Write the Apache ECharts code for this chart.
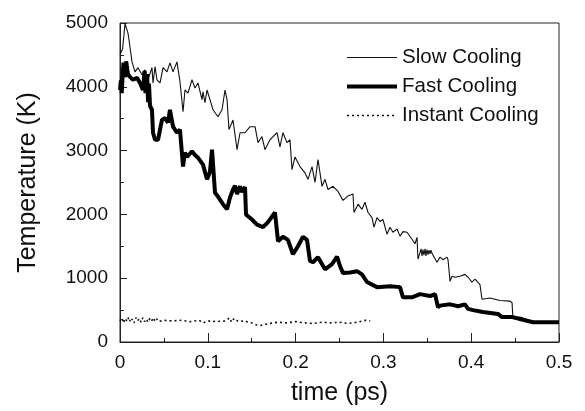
<!DOCTYPE html>
<html>
<head>
<meta charset="utf-8">
<script src="https://cdn.jsdelivr.net/npm/echarts@6/dist/echarts.min.js"></script>
<style>
html,body{margin:0;padding:0;background:#fff;}
#chart{width:585px;height:411px;}
</style>
</head>
<body>
<div id="chart"></div>
<script>
// ---- data ----
var seriesNames = ['Slow Cooling', 'Fast Cooling', 'Instant Cooling'];
var xTicks = [0, 0.1, 0.2, 0.3, 0.4, 0.5];
var yTicks = [0, 1000, 2000, 3000, 4000, 5000];

var slowT = [0, 0.003, 0.0057, 0.0091, 0.0103, 0.0137, 0.0171, 0.0205, 0.0251, 0.0285, 0.0319, 0.0364, 0.0376, 0.0399, 0.0421, 0.0456, 0.049, 0.0535, 0.0569, 0.0604, 0.0649, 0.0683, 0.0718, 0.074, 0.0774, 0.082, 0.0854, 0.0888, 0.0934, 0.0945, 0.0968, 0.0991, 0.1025, 0.1059, 0.1116, 0.1162, 0.1196, 0.1219, 0.1241, 0.1287, 0.1333, 0.1367, 0.1424, 0.1481, 0.1538, 0.1572, 0.1617, 0.1651, 0.1708, 0.1743, 0.1788, 0.1822, 0.1856, 0.1902, 0.1936, 0.1959, 0.1993, 0.205, 0.2107, 0.2141, 0.2187, 0.2221, 0.2255, 0.2301, 0.2335, 0.2369, 0.2426, 0.2483, 0.254, 0.2597, 0.2654, 0.2665, 0.2711, 0.2756, 0.279, 0.2825, 0.287, 0.2893, 0.2927, 0.2961, 0.2995, 0.3041, 0.3075, 0.3109, 0.3155, 0.3189, 0.3223, 0.3269, 0.3326, 0.336, 0.3383, 0.3394, 0.3417, 0.3428, 0.344, 0.3451, 0.3462, 0.3474, 0.3485, 0.3496, 0.3508, 0.3519, 0.3531, 0.3542, 0.3553, 0.3565, 0.361, 0.3645, 0.3679, 0.3724, 0.3736, 0.3759, 0.3781, 0.3816, 0.3872, 0.3929, 0.3964, 0.4009, 0.4043, 0.41, 0.4123, 0.4214, 0.4328, 0.4442, 0.4465, 0.4476, 0.4556, 0.467, 0.4749, 0.5];
var slowV = [4500, 4600, 4990, 4840, 4730, 4390, 4234, 4300, 4190, 4265, 4110, 4300, 4060, 4315, 4110, 4060, 4300, 4234, 4375, 4234, 4390, 4080, 3610, 3950, 3900, 4110, 3980, 4060, 3800, 3920, 3750, 3950, 3800, 3640, 3530, 3640, 3950, 3800, 3330, 3480, 3015, 3280, 3280, 3375, 3375, 3125, 3220, 3015, 3170, 3220, 3280, 3060, 3280, 3125, 3170, 2700, 2900, 2750, 2650, 2550, 2750, 2500, 2860, 2440, 2550, 2390, 2440, 2360, 2220, 2290, 2320, 2030, 2160, 2080, 2190, 2030, 1950, 1800, 1950, 1890, 1920, 1690, 1800, 1720, 1770, 1660, 1730, 1720, 1610, 1540, 1640, 1300, 1400, 1460, 1350, 1450, 1360, 1460, 1350, 1450, 1370, 1440, 1380, 1440, 1390, 1410, 1250, 1330, 1290, 1330, 1290, 950, 1030, 1015, 1030, 1060, 1015, 940, 985, 900, 670, 690, 650, 640, 620, 360, 390, 330, 310, 310];

var fastT = [0, 0.001, 0.002, 0.003, 0.004, 0.006, 0.007, 0.009, 0.0114, 0.0148, 0.0194, 0.0228, 0.0262, 0.028, 0.029, 0.0308, 0.032, 0.033, 0.0342, 0.0364, 0.0376, 0.0399, 0.0433, 0.0478, 0.0513, 0.0547, 0.0569, 0.0604, 0.0649, 0.0683, 0.0718, 0.074, 0.0763, 0.082, 0.0854, 0.0888, 0.0945, 0.0991, 0.1025, 0.1048, 0.1082, 0.1116, 0.1173, 0.1219, 0.1253, 0.1287, 0.131, 0.1333, 0.1367, 0.139, 0.1424, 0.1435, 0.1446, 0.1503, 0.156, 0.1629, 0.1686, 0.1765, 0.1778, 0.18, 0.1856, 0.1913, 0.197, 0.2027, 0.2084, 0.213, 0.2164, 0.2198, 0.2255, 0.2335, 0.2415, 0.2472, 0.2506, 0.254, 0.262, 0.2699, 0.2756, 0.2813, 0.2927, 0.3075, 0.3189, 0.3223, 0.3326, 0.3417, 0.3531, 0.3588, 0.3622, 0.3645, 0.3759, 0.385, 0.3929, 0.3964, 0.4021, 0.4134, 0.4305, 0.4351, 0.4476, 0.4556, 0.4704, 0.5];
var fastV = [3950, 4100, 3900, 4200, 4380, 4150, 4400, 4200, 4156, 4110, 4140, 4060, 3950, 4250, 3900, 4200, 3760, 4050, 3700, 3640, 3280, 3170, 3170, 3480, 3510, 3440, 3640, 3375, 3280, 3330, 2750, 2970, 2900, 2990, 2930, 2890, 2780, 2550, 2670, 3015, 2340, 2280, 2160, 2080, 2265, 2390, 2450, 2320, 2440, 2350, 2430, 2000, 1970, 1920, 1840, 1800, 1880, 2030, 2030, 1580, 1650, 1600, 1375, 1500, 1650, 1600, 1270, 1250, 1330, 1140, 1220, 1340, 1190, 1080, 1090, 1110, 1060, 940, 860, 875, 860, 700, 700, 750, 720, 750, 545, 570, 590, 560, 590, 520, 500, 470, 440, 390, 390, 360, 310, 310];

var instT = [0, 0.002, 0.004, 0.006, 0.008, 0.01, 0.012, 0.014, 0.016, 0.018, 0.02, 0.022, 0.024, 0.026, 0.028, 0.03, 0.032, 0.034, 0.036, 0.038, 0.04, 0.042, 0.044, 0.046, 0.05, 0.06, 0.07, 0.08, 0.09, 0.095, 0.1, 0.11, 0.12, 0.125, 0.127, 0.13, 0.135, 0.14, 0.15, 0.155, 0.16, 0.17, 0.18, 0.19, 0.2, 0.21, 0.22, 0.23, 0.24, 0.25, 0.26, 0.27, 0.28, 0.285];
var instV = [330, 380, 300, 370, 320, 390, 310, 360, 300, 380, 330, 370, 310, 380, 320, 360, 310, 370, 330, 380, 320, 360, 320, 350, 340, 330, 340, 320, 340, 300, 330, 320, 330, 380, 310, 370, 320, 330, 300, 270, 260, 290, 310, 300, 320, 300, 290, 310, 300, 310, 290, 310, 340, 330];

function zip(a, b) { return a.map(function (v, i) { return [v, b[i]]; }); }

var FONT = '"Liberation Sans", Arial, Helvetica, sans-serif';
var chart = echarts.init(document.getElementById('chart'));
chart.setOption({
  animation: false,
  backgroundColor: '#fff',
  grid: { left: 120, right: 26, top: 23, bottom: 68, show: true, borderColor: '#222', borderWidth: 1 },
  legend: {
    orient: 'vertical', left: 340, top: 42, align: 'left',
    itemWidth: 50, itemHeight: 20, itemGap: 8,
    itemStyle: { opacity: 0 },
    lineStyle: { width: 'inherit' },
    textStyle: { fontFamily: FONT, fontSize: 20.5, color: '#111' },
    data: seriesNames
  },
  xAxis: {
    type: 'value', min: xTicks[0], max: xTicks[xTicks.length - 1], interval: 0.1,
    name: 'time (ps)', nameLocation: 'middle', nameGap: 39,
    nameTextStyle: { fontFamily: FONT, fontSize: 25, color: '#111' },
    axisLine: { lineStyle: { color: '#222', width: 1 } },
    axisTick: { inside: true, length: 9, lineStyle: { color: '#222' } },
    minorTick: { show: true, splitNumber: 2, length: 4, lineStyle: { color: '#222' } },
    axisLabel: { fontFamily: FONT, fontSize: 19, color: '#111', margin: 11 },
    splitLine: { show: false }
  },
  yAxis: {
    type: 'value', min: yTicks[0], max: yTicks[yTicks.length - 1], interval: 1000,
    name: 'Temperature (K)', nameLocation: 'middle', nameGap: 79,
    nameTextStyle: { fontFamily: FONT, fontSize: 25, color: '#111' },
    axisLine: { show: true, lineStyle: { color: '#222', width: 1 } },
    axisTick: { show: true, inside: true, length: 7, lineStyle: { color: '#222' } },
    minorTick: { show: true, splitNumber: 2, length: 4, lineStyle: { color: '#222' } },
    axisLabel: { fontFamily: FONT, fontSize: 19, color: '#111', margin: 12,
      formatter: function (v) { return String(v); } },
    splitLine: { show: false }
  },
  series: [
    { name: seriesNames[0], type: 'line', showSymbol: false, symbol: 'none', data: zip(slowT, slowV),
      lineStyle: { color: '#111', width: 1.1 }, itemStyle: { color: '#111' } },
    { name: seriesNames[1], type: 'line', showSymbol: false, symbol: 'none', data: zip(fastT, fastV),
      lineStyle: { color: '#000', width: 4 }, itemStyle: { color: '#000' } },
    { name: seriesNames[2], type: 'line', showSymbol: false, symbol: 'none', data: zip(instT, instV),
      lineStyle: { color: '#111', width: 1.6, type: [2, 3] }, itemStyle: { color: '#111' } }
  ]
});
</script>
</body>
</html>
